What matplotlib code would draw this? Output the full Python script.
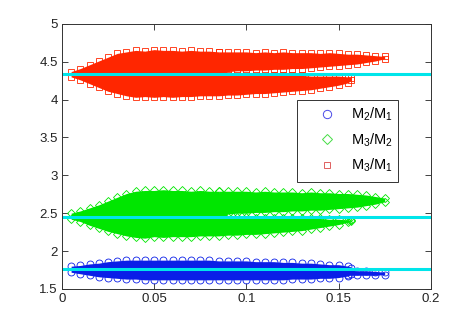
import matplotlib
matplotlib.use("Agg")
import matplotlib.pyplot as plt
from matplotlib.lines import Line2D
from matplotlib.patches import Rectangle

plt.rcParams['font.family'] = ['Liberation Sans', 'DejaVu Sans']
plt.rcParams['mathtext.default'] = 'regular'

# envelope of each cloud
body_x = [0.005, 0.01, 0.015, 0.02, 0.025, 0.03, 0.035, 0.04, 0.045, 0.05, 0.055,
          0.06, 0.065, 0.07, 0.075, 0.08, 0.085, 0.09, 0.095, 0.10, 0.105, 0.11,
          0.115, 0.12, 0.125, 0.13, 0.135, 0.14, 0.145, 0.15, 0.155, 0.157]
branch_x = [0.085, 0.09, 0.095, 0.10, 0.105, 0.11, 0.115, 0.12, 0.125, 0.13, 0.135,
            0.14, 0.145, 0.15, 0.155, 0.16, 0.165, 0.17, 0.175]
tail_x = [0.155, 0.16, 0.165, 0.17, 0.175]

# M3/M1 (red): main body + upper branch
r31_top = [4.37, 4.41, 4.46, 4.51, 4.56, 4.61, 4.63, 4.65, 4.64, 4.66, 4.65,
           4.65, 4.64, 4.65, 4.64, 4.64, 4.63, 4.33, 4.33, 4.33, 4.33, 4.32,
           4.32, 4.32, 4.32, 4.32, 4.31, 4.31, 4.31, 4.31, 4.30, 4.29]
r31_bot = [4.30, 4.26, 4.21, 4.16, 4.11, 4.08, 4.05, 4.03, 4.04, 4.03, 4.04,
           4.03, 4.04, 4.04, 4.05, 4.05, 4.05, 4.06, 4.06, 4.07, 4.08, 4.08,
           4.09, 4.10, 4.11, 4.12, 4.13, 4.15, 4.17, 4.19, 4.22, 4.26]
r31_br_top = [4.63, 4.63, 4.63, 4.63, 4.62, 4.63, 4.62, 4.63, 4.62, 4.62, 4.62,
              4.61, 4.62, 4.61, 4.60, 4.60, 4.59, 4.58, 4.57]
r31_br_bot = [4.37, 4.37, 4.38, 4.38, 4.39, 4.39, 4.40, 4.40, 4.41, 4.41, 4.42,
              4.43, 4.44, 4.45, 4.46, 4.47, 4.49, 4.51, 4.54]

# M3/M2 (green): main body + upper branch
r32_top = [2.50, 2.53, 2.57, 2.61, 2.66, 2.71, 2.76, 2.79, 2.80, 2.80, 2.81,
           2.80, 2.80, 2.79, 2.80, 2.79, 2.79, 2.45, 2.45, 2.45, 2.44, 2.44,
           2.44, 2.44, 2.44, 2.43, 2.43, 2.43, 2.42, 2.42, 2.41, 2.41]
r32_bot = [2.42, 2.39, 2.34, 2.30, 2.26, 2.23, 2.20, 2.18, 2.17, 2.19, 2.18,
           2.19, 2.19, 2.19, 2.20, 2.20, 2.20, 2.21, 2.21, 2.22, 2.22, 2.23,
           2.24, 2.25, 2.26, 2.27, 2.29, 2.31, 2.33, 2.35, 2.38, 2.40]
r32_br_top = [2.79, 2.79, 2.79, 2.79, 2.78, 2.79, 2.78, 2.78, 2.78, 2.77, 2.78,
              2.77, 2.77, 2.76, 2.76, 2.75, 2.74, 2.72, 2.70]
r32_br_bot = [2.49, 2.49, 2.50, 2.50, 2.51, 2.51, 2.52, 2.52, 2.53, 2.53, 2.54,
              2.54, 2.55, 2.56, 2.57, 2.58, 2.60, 2.62, 2.65]

# M2/M1 (blue): main body + thin tail
r21_top = [1.80, 1.81, 1.83, 1.84, 1.86, 1.87, 1.88, 1.88, 1.88, 1.88, 1.88,
           1.88, 1.88, 1.88, 1.88, 1.88, 1.87, 1.87, 1.87, 1.87, 1.86, 1.86,
           1.86, 1.85, 1.85, 1.84, 1.84, 1.83, 1.82, 1.82, 1.80, 1.78]
r21_bot = [1.72, 1.70, 1.68, 1.66, 1.65, 1.64, 1.63, 1.63, 1.62, 1.62, 1.62,
           1.62, 1.62, 1.62, 1.62, 1.62, 1.62, 1.62, 1.62, 1.62, 1.62, 1.62,
           1.62, 1.62, 1.63, 1.63, 1.63, 1.64, 1.64, 1.65, 1.67, 1.70]
r21_tail_top = [1.75, 1.74, 1.74, 1.73, 1.72]
r21_tail_bot = [1.68, 1.68, 1.68, 1.68, 1.69]

# reference ratios (cyan lines)
ref_levels = [1.764, 2.455, 4.335]

labels = ['M$_2$/M$_1$', 'M$_3$/M$_2$', 'M$_3$/M$_1$']
blue = '#0a1ee8'
green = '#00e600'
red = '#ff2600'

fig = plt.figure(figsize=(4.76, 3.10), dpi=100)
ax = fig.add_axes([0.130, 0.068, 0.775, 0.855])


def cloud(xs, top, bot, color, marker, ms):
    ax.fill_between(xs, bot, top, color=color, lw=0)
    ax.plot(xs + xs, top + bot, ls='none', marker=marker, ms=ms,
            mfc='none', mec=color, mew=0.6)


cloud(body_x, r21_top, r21_bot, blue, 'o', 5)
cloud(tail_x, r21_tail_top, r21_tail_bot, blue, 'o', 5)
cloud(body_x, r32_top, r32_bot, green, 'D', 4.5)
cloud(branch_x, r32_br_top, r32_br_bot, green, 'D', 4.5)
cloud(body_x, r31_top, r31_bot, red, 's', 4.5)
cloud(branch_x, r31_br_top, r31_br_bot, red, 's', 4.5)

for lev in ref_levels:
    ax.axhline(lev, color='#00e5ea', lw=2.2)

ax.set_xlim(0, 0.2)
ax.set_ylim(1.5, 5)
ax.set_xticks([0, 0.05, 0.1, 0.15, 0.2])
ax.set_xticklabels(['0', '0.05', '0.1', '0.15', '0.2'])
ax.set_yticks([1.5, 2, 2.5, 3, 3.5, 4, 4.5, 5])
ax.set_yticklabels(['1.5', '2', '2.5', '3', '3.5', '4', '4.5', '5'])
ax.tick_params(direction='in', top=True, right=True, length=4, width=0.6,
               labelsize=9.5, colors='#222222', pad=3)
for s in ax.spines.values():
    s.set_linewidth(0.7)
    s.set_color('#333333')

# legend box drawn by hand, entries as a frameless legend inside it
ax.add_patch(Rectangle((0.637, 0.404), 0.274, 0.309, transform=ax.transAxes,
                       facecolor='white', edgecolor='#333333', lw=0.7, zorder=5))
handles = [
    Line2D([], [], ls='none', marker='o', ms=6, mfc='none', mec='#4a4ae8', mew=0.7),
    Line2D([], [], ls='none', marker='D', ms=5, mfc='none', mec='#44dd44', mew=0.7),
    Line2D([], [], ls='none', marker='s', ms=5, mfc='none', mec='#e06060', mew=0.7),
]
leg = ax.legend(handles, labels, loc='center left', bbox_to_anchor=(0.698, 0.562),
                fontsize=10.5, frameon=False, borderpad=0, handlelength=1.0,
                handletextpad=1.2, labelspacing=0.55, borderaxespad=0)
leg.set_zorder(6)

fig.savefig('out.png', dpi=100)
